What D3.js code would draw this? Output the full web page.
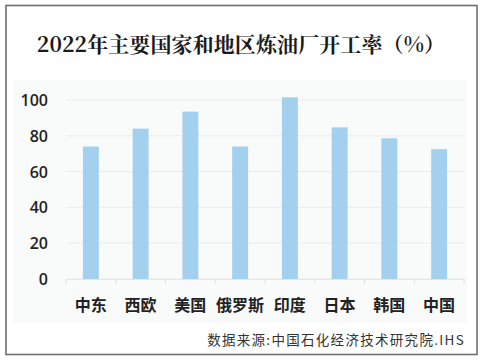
<!DOCTYPE html>
<html><head><meta charset="utf-8">
<script src="https://cdn.jsdelivr.net/npm/d3@7"></script>
<style>body{margin:0;background:#fff}svg{display:block}</style>
</head><body>
<svg id="c" width="483" height="361"></svg>
<script>
const categories = ["中东","西欧","美国","俄罗斯","印度","日本","韩国","中国"];
const values = [74, 84, 93.5, 74, 101.5, 84.7, 78.6, 72.5];
const yTicks = [0, 20, 40, 60, 80, 100];
const title = "2022年主要国家和地区炼油厂开工率（%）";
const source = "数据来源:中国石化经济技术研究院.IHS";

const svg = d3.select("#c");
// frame
svg.append("rect").attr("x",6).attr("y",5.5).attr("width",471).attr("height",349)
  .attr("fill","#fff").attr("stroke","#6e6e6e").attr("stroke-width",1.6);
// panel
svg.append("rect").attr("x",13).attr("y",80).attr("width",454).attr("height",243).attr("fill","#f9fafa");

svg.append("text").attr("x",241).attr("y",52).attr("text-anchor","middle")
  .attr("font-family","'Noto Serif CJK SC','Noto Sans CJK SC',serif").attr("font-weight","bold")
  .attr("font-size",21).attr("letter-spacing",0.1).attr("fill","#1a1a1a").text(title);

const x = d3.scaleBand().domain(categories).range([66,464]).paddingInner(0.68).paddingOuter(0.34);
const y = d3.scaleLinear().domain([0,100]).range([279,100]);

const g = svg.append("g");
// grid
g.selectAll("line.grid").data(yTicks).join("line")
  .attr("x1",66).attr("x2",464).attr("y1",d=>y(d)).attr("y2",d=>y(d))
  .attr("stroke","#ececec").attr("stroke-width",1);
// y axis labels
g.selectAll("text.yl").data(yTicks).join("text")
  .attr("x",48).attr("y",d=>y(d)+6).attr("text-anchor","end")
  .attr("font-family","'Open Sans','Noto Sans',sans-serif").attr("font-weight","600")
  .attr("font-size",16).attr("fill","#222").text(d=>d);
// x ticks between bands
const step = x.step();
const tickX = d3.range(categories.length+1).map(i=>66+i*step);
g.selectAll("line.xt").data(tickX).join("line")
  .attr("x1",d=>d).attr("x2",d=>d).attr("y1",279).attr("y2",284)
  .attr("stroke","#e0e0e0");
g.append("line").attr("x1",66).attr("x2",464).attr("y1",279.5).attr("y2",279.5).attr("stroke","#e6e6e6");
// bars
g.selectAll("rect.bar").data(values).join("rect")
  .attr("x",(d,i)=>x(categories[i])).attr("width",x.bandwidth())
  .attr("y",d=>y(d)).attr("height",d=>y(0)-y(d)).attr("fill","#a3d0ee");
// category labels
g.selectAll("text.xl").data(categories).join("text")
  .attr("x",d=>x(d)+x.bandwidth()/2).attr("y",311).attr("text-anchor","middle")
  .attr("font-family","'Noto Sans CJK SC',sans-serif").attr("font-weight","bold")
  .attr("font-size",16).attr("fill","#222").text(d=>d);
// source
svg.append("text").attr("x",465).attr("y",345).attr("text-anchor","end")
  .attr("font-family","'Noto Sans CJK SC',sans-serif").attr("font-size",13.5).attr("letter-spacing",1.3)
  .attr("fill","#333").text(source);
</script>
</body></html>
